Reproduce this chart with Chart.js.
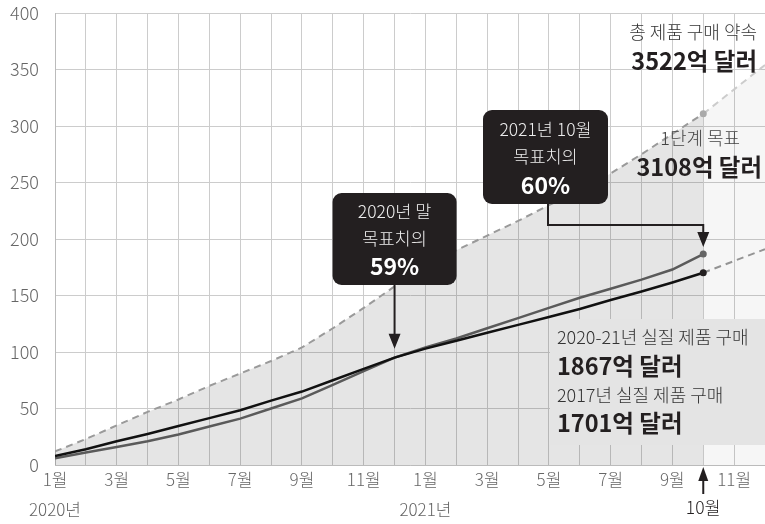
<!DOCTYPE html>
<html>
<head>
<meta charset="utf-8">
<script src="https://cdn.jsdelivr.net/npm/chart.js@4"></script>
<style>
  html, body { margin: 0; padding: 0; background: #fff; }
  #wrap { width: 765px; height: 524px; }
</style>
</head>
<body>
<div id="wrap"><canvas id="myChart" width="765" height="524"></canvas></div>
<script>
// month index 0 = 2020년 1월 ... 21 = 2021년 10월
var monthTicks = ['1월','','3월','','5월','','7월','','9월','','11월','',
                  '1월','','3월','','5월','','7월','','9월','','11월',''];
var yearTicks = { 0: '2020년', 12: '2021년' };

// 1단계 목표 (누적, 억 달러 / 10)
var target = [12, 23, 35, 47, 58, 70, 81, 92, 104, 121, 139, 158,
              174, 190, 203, 216, 230, 243, 258, 275, 293, 310.8];
// 2020-21년 실질 제품 구매
var actual2021 = [6, 11, 16, 21, 27, 34, 41, 50, 59, 71, 83, 95,
                  104, 112, 121, 130, 139, 148, 156, 164, 173, 186.7];
// 2017년 실질 제품 구매
var actual2017 = [8, 14, 21, 27.5, 34.5, 41.5, 48.5, 57, 65, 75, 85, 95,
                  103, 110, 117, 124, 131, 138, 146, 153.5, 161.5, 170.1];
// 총 제품 구매 약속까지 연장
var totalExt = [[21, 310.8], [23, 354]];
var base2017Ext = [[21, 170.1], [23, 191]];

var FONT = "'Noto Sans CJK KR', 'Noto Sans', sans-serif";

function toXY(arr) {
  return arr.map(function (v, i) { return { x: i, y: v }; });
}
function pairXY(arr) {
  return arr.map(function (p) { return { x: p[0], y: p[1] }; });
}
function lastDot(n, r) {
  return function (c) { return c.dataIndex === n ? r : 0; };
}

var annotations = {
  id: 'annotations',
  afterDatasetsDraw: function (chart) {
    var ctx = chart.ctx;
    var xs = chart.scales.x, ys = chart.scales.y;
    var area = chart.chartArea;
    ctx.save();

    function text(str, x, y, size, weight, color, align) {
      ctx.font = weight + ' ' + size + 'px ' + FONT;
      ctx.fillStyle = color;
      ctx.textAlign = align || 'center';
      ctx.textBaseline = 'middle';
      ctx.fillText(str, x, y);
    }
    function arrowHead(x, tipY) {
      ctx.fillStyle = '#231f20';
      ctx.beginPath();
      ctx.moveTo(x, tipY);
      ctx.lineTo(x - 6, tipY - 15);
      ctx.lineTo(x + 6, tipY - 15);
      ctx.closePath();
      ctx.fill();
    }

    // 2020년 말 box
    var x1 = xs.getPixelForValue(11);
    ctx.fillStyle = '#231f20';
    ctx.beginPath();
    ctx.roundRect(x1 - 62, 193, 124, 92, 9);
    ctx.fill();
    text('2020년 말', x1, 211, 17.5, 300, '#eeeeee');
    text('목표치의', x1, 238, 17.5, 300, '#eeeeee');
    text('59%', x1, 266, 23, 'bold', '#ffffff');
    var tip1 = ys.getPixelForValue(actual2017[11]) - 9;
    ctx.strokeStyle = '#231f20';
    ctx.lineWidth = 2;
    ctx.beginPath();
    ctx.moveTo(x1, 285);
    ctx.lineTo(x1, tip1 - 10);
    ctx.stroke();
    arrowHead(x1, tip1);

    // 2021년 10월 box
    var x2 = xs.getPixelForValue(21);
    var bx = 483, bw = 125;
    ctx.fillStyle = '#231f20';
    ctx.beginPath();
    ctx.roundRect(bx, 110, bw, 94, 9);
    ctx.fill();
    text('2021년 10월', bx + bw / 2, 129, 17.5, 300, '#eeeeee');
    text('목표치의', bx + bw / 2, 156, 17.5, 300, '#eeeeee');
    text('60%', bx + bw / 2, 185, 23, 'bold', '#ffffff');
    var tip2 = ys.getPixelForValue(actual2021[21]) - 7;
    ctx.strokeStyle = '#231f20';
    ctx.lineWidth = 2;
    ctx.beginPath();
    ctx.moveTo(548, 204);
    ctx.lineTo(548, 225);
    ctx.lineTo(x2, 225);
    ctx.lineTo(x2, tip2 - 10);
    ctx.stroke();
    arrowHead(x2, tip2);

    // 총 제품 구매 약속
    text('총 제품 구매 약속', 757, 32, 18, 300, '#333333', 'right');
    text('3522억 달러', 757, 61, 23.5, 'bold', '#231f20', 'right');

    // 1단계 목표
    text('1단계 목표', x2 - 3, 138, 18, 300, '#444444');
    text('3108억 달러', x2 - 4, 167, 23.5, 'bold', '#231f20');

    // lower-right legend box
    var lx = xs.getPixelForValue(16);
    ctx.fillStyle = '#e4e4e4';
    ctx.fillRect(lx + 1, 319, area.right - lx, 126);
    text('2020-21년 실질 제품 구매', lx + 8, 337, 18, 300, '#333333', 'left');
    text('1867억 달러', lx + 8, 366, 23.5, 'bold', '#231f20', 'left');
    text('2017년 실질 제품 구매', lx + 8, 395, 18, 300, '#333333', 'left');
    text('1701억 달러', lx + 8, 423, 23.5, 'bold', '#231f20', 'left');

    // 10월 marker under axis
    ctx.strokeStyle = '#231f20';
    ctx.lineWidth = 2;
    ctx.beginPath();
    ctx.moveTo(x2, 494);
    ctx.lineTo(x2, 478);
    ctx.stroke();
    ctx.fillStyle = '#231f20';
    ctx.beginPath();
    ctx.moveTo(x2, 467);
    ctx.lineTo(x2 - 5, 481);
    ctx.lineTo(x2 + 5, 481);
    ctx.closePath();
    ctx.fill();
    text('10월', x2, 507, 17.5, 300, '#231f20');

    ctx.restore();
  }
};

var ctx = document.getElementById('myChart').getContext('2d');
var chart = new Chart(ctx, {
  type: 'line',
  data: {
    datasets: [{
      label: '2017년 실질 제품 구매',
      data: toXY(actual2017),
      borderColor: '#111111',
      borderWidth: 2.5,
      pointRadius: lastDot(21, 3.5),
      pointBackgroundColor: '#231f20',
      pointBorderWidth: 0,
      tension: 0
    }, {
      label: '2020-21년 실질 제품 구매',
      data: toXY(actual2021),
      borderColor: '#5a5a5a',
      borderWidth: 2.5,
      pointRadius: lastDot(21, 3.5),
      pointBackgroundColor: '#666666',
      pointBorderWidth: 0,
      tension: 0
    }, {
      label: '1단계 목표',
      data: toXY(target),
      borderColor: '#9a9a9a',
      borderWidth: 2,
      borderDash: [7, 5],
      backgroundColor: 'rgba(0,0,0,0.1)',
      fill: 'origin',
      pointRadius: lastDot(21, 3.5),
      pointBackgroundColor: '#aaaaaa',
      pointBorderWidth: 0,
      tension: 0
    }, {
      label: '총 제품 구매 약속',
      data: pairXY(totalExt),
      borderColor: '#cccccc',
      borderWidth: 2,
      borderDash: [7, 5],
      backgroundColor: 'rgba(0,0,0,0.035)',
      fill: 'origin',
      pointRadius: 0,
      tension: 0
    }, {
      label: '2017년 기준 연장',
      data: pairXY(base2017Ext),
      borderColor: '#9a9a9a',
      borderWidth: 2,
      borderDash: [7, 5],
      pointRadius: 0,
      tension: 0
    }]
  },
  options: {
    responsive: false,
    animation: false,
    layout: { autoPadding: false, padding: 0 },
    plugins: {
      legend: { display: false },
      tooltip: { enabled: false }
    },
    scales: {
      x: {
        type: 'linear',
        min: 0,
        max: 23,
        afterFit: function (s) { s.height = 59; s.paddingRight = 0; s.paddingLeft = 0; },
        afterBuildTicks: function (s) {
          s.ticks = [];
          for (var i = 0; i <= 23; i++) s.ticks.push({ value: i });
        },
        grid: { color: '#cccccc', lineWidth: 1, drawTicks: false },
        border: { color: '#bbbbbb' },
        ticks: {
          autoSkip: false,
          maxRotation: 0,
          padding: 0,
          color: '#666666',
          font: { family: FONT, size: 17, weight: 300, lineHeight: 1.75 },
          callback: function (v) {
            var m = monthTicks[v] || '';
            if (yearTicks[v]) return [m, yearTicks[v]];
            return m;
          }
        }
      },
      y: {
        min: 0,
        max: 400,
        afterFit: function (s) { s.width = 55; s.paddingTop = 13; s.paddingBottom = 0; },
        grid: { color: '#cccccc', lineWidth: 1, drawTicks: false },
        border: { color: '#bbbbbb' },
        ticks: {
          stepSize: 50,
          padding: 16,
          color: '#666666',
          font: { family: FONT, size: 18, weight: 300 }
        }
      }
    }
  },
  plugins: [annotations]
});
</script>
</body>
</html>
